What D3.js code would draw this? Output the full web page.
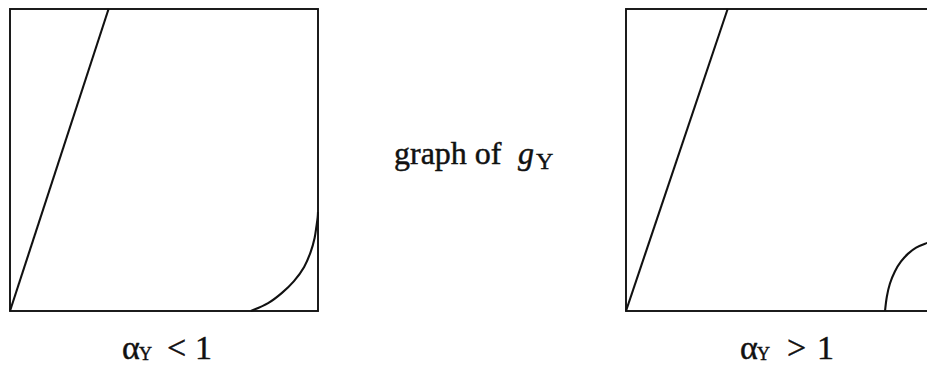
<!DOCTYPE html>
<html>
<head>
<meta charset="utf-8">
<script src="https://cdn.jsdelivr.net/npm/d3@7"></script>
<style>
  html, body { margin: 0; padding: 0; background: #fff; }
  svg { display: block; }
  text { font-family: "Liberation Serif", "Times New Roman", serif; fill: #111;
         stroke: #111; stroke-width: 0.45px; paint-order: stroke; }
</style>
</head>
<body>
<svg id="chart" width="927" height="365"></svg>
<script>
// Two panels, each the unit square [0,1] x [0,1], showing the graph of g_Y.
const panels = ["left", "right"];
const panelRelations = ["<", ">"];
const panelBound = "1";

// Steep straight piece from the origin to the top edge (unit coordinates).
const lineLeft  = [[0, 0], [0.32, 1]];
const lineRight = [[0, 0], [0.33, 1]];

// Curved piece near the lower right corner.
const curveLeft = [
  [0.782, 0.000], [0.838, 0.026], [0.883, 0.060], [0.922, 0.099],
  [0.955, 0.146], [0.976, 0.195], [0.989, 0.242], [0.995, 0.281],
  [0.999, 0.311], [1.000, 0.328]
];
const curveRight = [
  [0.841, 0.000], [0.847, 0.048], [0.857, 0.091], [0.873, 0.131],
  [0.893, 0.164], [0.916, 0.190], [0.942, 0.210], [0.971, 0.223],
  [1.000, 0.232]
];

const svg = d3.select("#chart");
const ink = "#111";

const y = d3.scaleLinear().domain([0, 1]).range([311, 9]);
const xScales = {
  left:  d3.scaleLinear().domain([0, 1]).range([10, 318]),
  right: d3.scaleLinear().domain([0, 1]).range([626, 934])
};
const pieces = {
  left:  { line: lineLeft,  curve: curveLeft },
  right: { line: lineRight, curve: curveRight }
};
// glyph positions of the label under each panel
const labelAt = {
  left:  { a: 122, sub: 139, rel: 167, one: 195 },
  right: { a: 740, sub: 757, rel: 787, one: 817 }
};

panels.forEach((p, i) => {
  const x = xScales[p];
  const g = svg.append("g");

  g.append("rect")
    .attr("x", x(0)).attr("y", y(1))
    .attr("width", x(1) - x(0)).attr("height", y(0) - y(1))
    .attr("fill", "none").attr("stroke", ink).attr("stroke-width", 1.9);

  const straight = d3.line().x(d => x(d[0])).y(d => y(d[1]));
  g.append("path")
    .attr("d", straight(pieces[p].line))
    .attr("fill", "none").attr("stroke", ink).attr("stroke-width", 2.1);

  const smooth = d3.line().x(d => x(d[0])).y(d => y(d[1]))
    .curve(d3.curveCatmullRom.alpha(0.5));
  g.append("path")
    .attr("d", smooth(pieces[p].curve))
    .attr("fill", "none").attr("stroke", ink).attr("stroke-width", 2.1);

  // label under the panel: alpha_Y < 1 / alpha_Y > 1
  const L = labelAt[p];
  g.append("text").attr("x", L.a).attr("y", 359).attr("font-size", 34).text("\u03B1");
  g.append("text").attr("x", L.sub).attr("y", 360).attr("font-size", 18).text("Y");
  g.append("text").attr("x", L.rel).attr("y", 359).attr("font-size", 34).text(panelRelations[i]);
  g.append("text").attr("x", L.one).attr("y", 359).attr("font-size", 34).text(panelBound);
});

// caption between the panels
svg.append("text").attr("x", 394).attr("y", 164).attr("font-size", 32).text("graph of");
svg.append("text").attr("x", 518).attr("y", 164).attr("font-size", 32)
  .attr("font-style", "italic").text("g");
svg.append("text").attr("x", 536).attr("y", 169).attr("font-size", 24).text("Y");
</script>
</body>
</html>
